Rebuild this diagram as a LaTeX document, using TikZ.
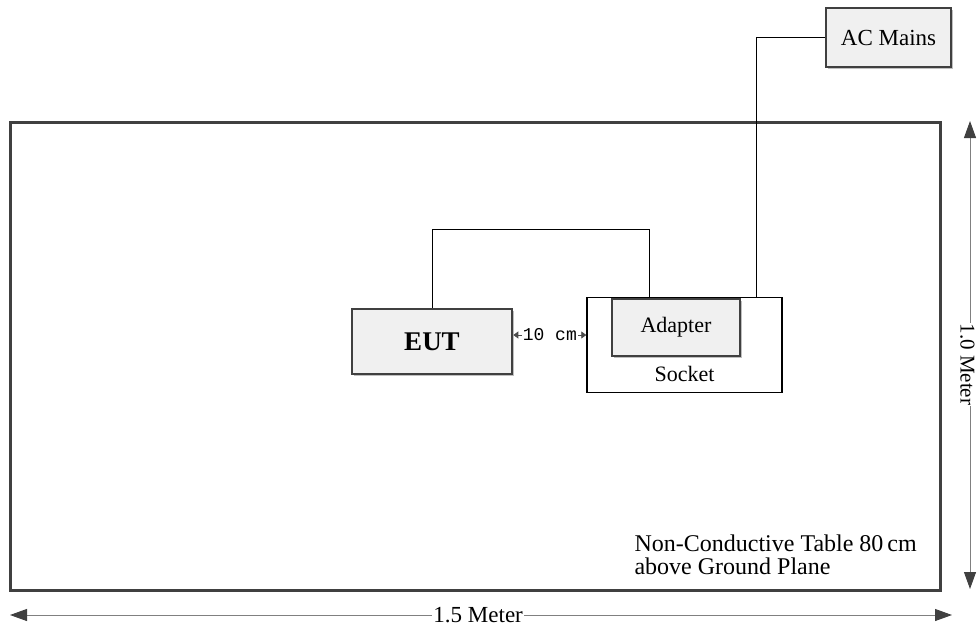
\documentclass[tikz,border=0pt]{standalone}
\usepackage{fontspec}
\setmainfont{Liberation Serif}
\setmonofont{Liberation Mono}
\usetikzlibrary{arrows.meta,shadows,calc}
\tikzset{
  boxgray/.style={draw=black!75, line width=2.6pt, fill=black!6, inner sep=0pt,
    drop shadow={shadow xshift=2pt, shadow yshift=-2pt, fill=black!25, opacity=1}},
  sockbox/.style={draw=black, line width=1.4pt, fill=white, inner sep=0pt},
  wire/.style={draw=black, line width=0.9pt},
  dimline/.style={draw=black!50, line width=1pt, {Triangle[length=17pt,width=12pt,fill=black!75,color=black!75]}-{Triangle[length=17pt,width=12pt,fill=black!75,color=black!75]}},
  smalldim/.style={draw=black!70, line width=0.8pt, {Triangle[length=5pt,width=7pt]}-{Triangle[length=5pt,width=7pt]}},
  lbl/.style={font=\fontsize{23}{24}\selectfont}
}
\begin{document}
\begin{tikzpicture}[x=1pt,y=-1pt]
\useasboundingbox (0,0) rectangle (978,630);
% table
\node[draw=black!75, line width=3pt, minimum width=930pt, minimum height=468pt, inner sep=0pt,
  drop shadow={shadow xshift=1.5pt, shadow yshift=-1.5pt, fill=black!20, opacity=1}, fill=white] (table) at (475,356) {};
% socket
\node[sockbox, minimum width=195pt, minimum height=95pt] (socket) at (684.5,345) {};
\node[font=\fontsize{22}{24}\selectfont, anchor=center] (socklbl) at (684.5,374) {Socket};
% adapter
\node[boxgray, minimum width=128pt, minimum height=57pt] (adapter) at (676,327.5) {};
\node[font=\fontsize{22}{24}\selectfont] (adaptlbl) at (adapter.center) {Adapter};
% EUT
\node[boxgray, minimum width=160pt, minimum height=65pt, font=\fontsize{27}{29}\selectfont\bfseries] (eut) at (432,341.5) {EUT};
% AC Mains
\node[boxgray, minimum width=125pt, minimum height=59pt, lbl] (ac) at (888.5,37.5) {AC Mains};
% wires
\draw[wire] (eut.north) -- (eut.north |- 0,229) -| ([xshift=39pt]adapter.north west);
\draw[wire] ([xshift=170pt]socket.north west) |- (ac.west);
% 10 cm
\draw[smalldim] (eut.east |- 0,335) -- node[fill=white, inner sep=1pt, font=\ttfamily\fontsize{18}{20}\selectfont] (tencm) {10 cm} (socket.west |- 0,335);
% table label
\node[anchor=west, align=left, font=\fontsize{24}{23}\selectfont] (tlabel) at (631,555) {Non-Conductive Table 80\,cm\\above Ground Plane};
% dimensions
\coordinate (hl) at (10,615);
\coordinate (hr) at (952,615);
\draw[dimline] (hl) -- node[pos=0.497, fill=white, inner sep=1pt, lbl] (wlbl) {1.5 Meter} (hr);
\coordinate (vt) at (970,121);
\coordinate (vb) at (970,589);
\draw[dimline] (vt) -- node[pos=0.52, xshift=-2.5pt, fill=white, inner sep=0.5pt, font=\fontsize{21}{22}\selectfont, rotate=-90] (hlbl) {1.0 Meter} (vb);
\end{tikzpicture}
\end{document}
